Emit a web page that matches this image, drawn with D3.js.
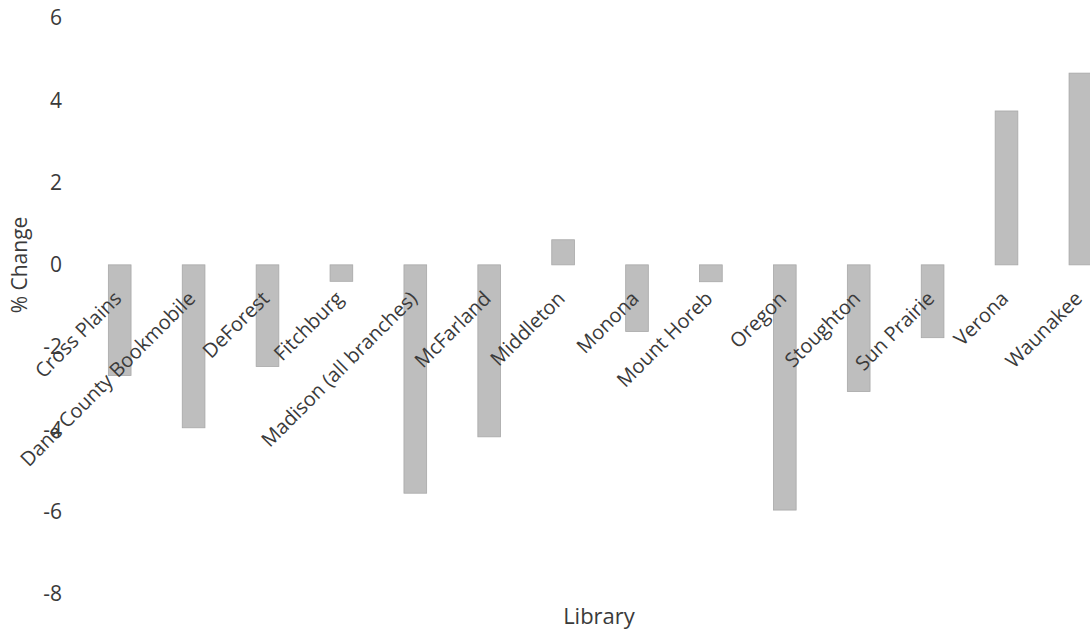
<!DOCTYPE html>
<html>
<head>
<meta charset="utf-8">
<script src="https://cdn.jsdelivr.net/npm/d3@7"></script>
<style>
  html, body { margin: 0; padding: 0; background: #ffffff; }
  svg { display: block; }
  text { font-family: "Open Sans", "Noto Sans", sans-serif; fill: #3a3a3a; }
</style>
</head>
<body>
<svg id="chart" width="1090" height="632"></svg>
<script>
const libraries = [
  "Cross Plains", "Dane County Bookmobile", "DeForest", "Fitchburg",
  "Madison (all branches)", "McFarland", "Middleton", "Monona",
  "Mount Horeb", "Oregon", "Stoughton", "Sun Prairie", "Verona", "Waunakee"
];
const pctChange = [
  -2.69, -3.96, -2.47, -0.40, -5.55, -4.18, 0.61, -1.62,
  -0.41, -5.96, -3.08, -1.77, 3.74, 4.66
];
const yTicks = [-8, -6, -4, -2, 0, 2, 4, 6];
const yTitle = "% Change";
const xTitle = "Library";

const svg = d3.select("#chart");

const x = d3.scaleBand()
  .domain(libraries)
  .range([82.75, 1117.35])
  .paddingInner(0.693)
  .paddingOuter(0.3465);

const y = d3.scaleLinear()
  .domain([-8, 6])
  .range([594, 18]);

// bars
svg.append("g")
  .selectAll("rect")
  .data(libraries.map((name, i) => ({ name, value: pctChange[i] })))
  .join("rect")
  .attr("x", d => x(d.name))
  .attr("width", x.bandwidth())
  .attr("y", d => y(Math.max(0, d.value)))
  .attr("height", d => Math.abs(y(d.value) - y(0)))
  .attr("fill", "#bebebe")
  .attr("stroke", "#a8a8a8")
  .attr("stroke-width", 0.8);

// y axis (labels only)
const yAxis = d3.axisLeft(y)
  .tickValues(yTicks)
  .tickSize(0)
  .tickPadding(0)
  .tickFormat(d => String(d));
const yg = svg.append("g")
  .attr("transform", "translate(62,0)")
  .call(yAxis);
yg.select(".domain").remove();
yg.selectAll("text")
  .attr("font-size", 21)
  .style("font-family", "'Open Sans', sans-serif")
  .attr("fill", "#3a3a3a");

// category labels (rotated) next to zero line
const xAxis = d3.axisBottom(x).tickSize(0).tickPadding(0);
const xg = svg.append("g")
  .attr("transform", `translate(0,${y(0)})`)
  .call(xAxis);
xg.select(".domain").remove();
xg.selectAll(".tick text")
  .attr("font-size", 20)
  .style("font-family", "'Open Sans', sans-serif")
  .attr("fill", "#3a3a3a")
  .attr("dy", null)
  .attr("y", 0)
  .attr("text-anchor", "end")
  .attr("transform", "translate(3,35) rotate(-45)");

// axis titles
svg.append("text")
  .attr("transform", "translate(27,265) rotate(-90)")
  .attr("text-anchor", "middle")
  .attr("font-size", 21)
  .text(yTitle);

svg.append("text")
  .attr("x", 599)
  .attr("y", 624)
  .attr("text-anchor", "middle")
  .attr("font-size", 22)
  .text(xTitle);
</script>
</body>
</html>
